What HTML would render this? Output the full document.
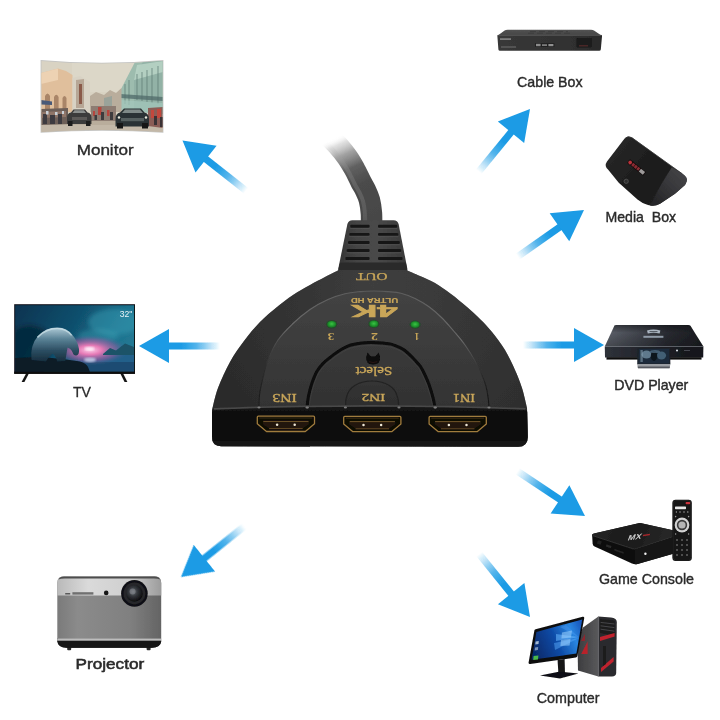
<!DOCTYPE html>
<html>
<head>
<meta charset="utf-8">
<title>HDMI Switch Diagram</title>
<style>
  html, body { margin: 0; padding: 0; background: #ffffff; }
  body { width: 720px; height: 720px; overflow: hidden; position: relative; font-family: "Liberation Sans", sans-serif; }
  svg { position: absolute; left: 0; top: 0; display: block; }
  .lbl { font-family: "Liberation Sans", sans-serif; font-size: 15px; fill: #2a2a2a; text-anchor: start; }
  .gold { fill: #c9a659; font-family: "Liberation Serif", serif; text-anchor: middle; }
  .goldb { fill: #c9a659; font-family: "Liberation Sans", sans-serif; font-weight: bold; text-anchor: middle; }
</style>
</head>
<body>
<svg width="720" height="720" viewBox="0 0 720 720">
  <defs>
    <!-- arrow: tip at origin, pointing +x -->
    <linearGradient id="shaft" x1="-81" y1="0" x2="-29" y2="0" gradientUnits="userSpaceOnUse">
      <stop offset="0" stop-color="#1a9be5" stop-opacity="0"/>
      <stop offset="0.45" stop-color="#1a9be5" stop-opacity="0.75"/>
      <stop offset="0.75" stop-color="#1a9be5" stop-opacity="1"/>
      <stop offset="1" stop-color="#1a9be5" stop-opacity="1"/>
    </linearGradient>
    <g id="arrow">
      <rect x="-81" y="-3.5" width="53" height="7" fill="url(#shaft)"/>
      <path d="M0 0 L-30 -17 L-30 17 Z" fill="#1a9be5"/>
    </g>
    <filter id="softT" x="-5%" y="-20%" width="110%" height="140%"><feGaussianBlur stdDeviation="0.35"/></filter>
    <filter id="soft" x="-5%" y="-5%" width="110%" height="110%"><feGaussianBlur stdDeviation="0.5"/></filter>
    <filter id="soft1" x="-5%" y="-5%" width="110%" height="110%"><feGaussianBlur stdDeviation="1"/></filter>
    <filter id="soft2" x="-10%" y="-10%" width="120%" height="120%"><feGaussianBlur stdDeviation="2"/></filter>
  </defs>

  <rect width="720" height="720" fill="#ffffff"/>

  <!-- ARROWS -->
  <g id="arrows" filter="url(#soft)">
    <use href="#arrow" transform="translate(182.5 140.6) rotate(-141.7)"/>
    <use href="#arrow" transform="translate(139 346) rotate(180)"/>
    <use href="#arrow" transform="translate(181 577) rotate(141.3)"/>
    <use href="#arrow" transform="translate(530 109) rotate(-50.7)"/>
    <use href="#arrow" transform="translate(584 210) rotate(-35.1)"/>
    <use href="#arrow" transform="translate(604 345) rotate(0)"/>
    <use href="#arrow" transform="translate(585 516) rotate(33.5)"/>
    <use href="#arrow" transform="translate(530 617) rotate(51.1)"/>
  </g>

  <!-- LABELS -->
  <g id="labels" filter="url(#softT)">
    <text class="lbl" x="76.7" y="154.8" font-size="14.3" textLength="56.9" lengthAdjust="spacingAndGlyphs" stroke="#2a2a2a" stroke-width="0.35">Monitor</text>
    <text class="lbl" x="73.0" y="396.5" font-size="14.5" textLength="18.0" lengthAdjust="spacingAndGlyphs" stroke="#2a2a2a" stroke-width="0.30">TV</text>
    <text class="lbl" x="75.6" y="668.8" font-size="14.2" textLength="68.6" lengthAdjust="spacingAndGlyphs" stroke="#2a2a2a" stroke-width="0.55">Projector</text>
    <text class="lbl" x="517.1" y="86.8" font-size="13.8" textLength="65.5" lengthAdjust="spacingAndGlyphs" stroke="#2a2a2a" stroke-width="0.40">Cable Box</text>
    <text class="lbl" x="605.5" y="221.6" font-size="13.2" textLength="70.6" lengthAdjust="spacingAndGlyphs" stroke="#2a2a2a" stroke-width="0.40">Media&#160;&#160;Box</text>
    <text class="lbl" x="614.3" y="389.8" font-size="13.0" textLength="74.0" lengthAdjust="spacingAndGlyphs" stroke="#2a2a2a" stroke-width="0.45">DVD Player</text>
    <text class="lbl" x="598.9" y="583.8" font-size="14.0" textLength="95.1" lengthAdjust="spacingAndGlyphs" stroke="#2a2a2a" stroke-width="0.40">Game Console</text>
    <text class="lbl" x="536.8" y="702.8" font-size="14.0" textLength="62.7" lengthAdjust="spacingAndGlyphs" stroke="#2a2a2a" stroke-width="0.40">Computer</text>
  </g>

  <!-- CENTER DEVICE placeholder -->
  <g id="device">
    <defs>
      <filter id="cableBlur" filterUnits="userSpaceOnUse" x="290" y="110" width="130" height="140"><feGaussianBlur stdDeviation="0.6"/></filter>
      <linearGradient id="cableFade" x1="372" y1="226" x2="332" y2="139" gradientUnits="userSpaceOnUse">
        <stop offset="0" stop-color="#464646"/>
        <stop offset="0.45" stop-color="#4b4b4b"/>
        <stop offset="0.64" stop-color="#585858" stop-opacity="0.95"/>
        <stop offset="0.8" stop-color="#7a7a7a" stop-opacity="0.7"/>
        <stop offset="0.92" stop-color="#a8a8a8" stop-opacity="0.35"/>
        <stop offset="1" stop-color="#ffffff" stop-opacity="0"/>
      </linearGradient>
      <linearGradient id="cableHi" x1="372" y1="226" x2="332" y2="139" gradientUnits="userSpaceOnUse">
        <stop offset="0" stop-color="#5c5c5c" stop-opacity="0.75"/>
        <stop offset="0.6" stop-color="#747474" stop-opacity="0.6"/>
        <stop offset="0.9" stop-color="#bbbbbb" stop-opacity="0.2"/>
        <stop offset="1" stop-color="#ffffff" stop-opacity="0"/>
      </linearGradient>
      <linearGradient id="reliefG" x1="339" y1="0" x2="406" y2="0" gradientUnits="userSpaceOnUse">
        <stop offset="0" stop-color="#353535"/>
        <stop offset="0.25" stop-color="#444444"/>
        <stop offset="0.55" stop-color="#494949"/>
        <stop offset="1" stop-color="#3a3a3a"/>
      </linearGradient>
      <radialGradient id="topG" cx="372" cy="285" r="190" gradientUnits="userSpaceOnUse">
        <stop offset="0" stop-color="#464646"/>
        <stop offset="0.4" stop-color="#383838"/>
        <stop offset="0.8" stop-color="#2c2c2c"/>
        <stop offset="1" stop-color="#262626"/>
      </radialGradient>
      <linearGradient id="bandG" x1="212" y1="0" x2="527" y2="0" gradientUnits="userSpaceOnUse">
        <stop offset="0" stop-color="#2e2e2e"/>
        <stop offset="0.35" stop-color="#303030"/>
        <stop offset="0.7" stop-color="#3a3a3a"/>
        <stop offset="1" stop-color="#383838"/>
      </linearGradient>
      <linearGradient id="a2S" x1="259" y1="0" x2="489" y2="0" gradientUnits="userSpaceOnUse">
        <stop offset="0" stop-color="#1c1c1c"/>
        <stop offset="0.12" stop-color="#6a6a6a"/>
        <stop offset="0.5" stop-color="#585858"/>
        <stop offset="0.88" stop-color="#6a6a6a"/>
        <stop offset="1" stop-color="#161616"/>
      </linearGradient>
      <linearGradient id="frontG" x1="0" y1="406" x2="0" y2="449" gradientUnits="userSpaceOnUse">
        <stop offset="0" stop-color="#1a1a1a"/>
        <stop offset="0.15" stop-color="#0e0e0e"/>
        <stop offset="0.8" stop-color="#111111"/>
        <stop offset="1" stop-color="#1c1c1c"/>
      </linearGradient>
      <linearGradient id="a2G" x1="0" y1="291" x2="0" y2="407" gradientUnits="userSpaceOnUse">
        <stop offset="0" stop-color="#434343"/>
        <stop offset="0.45" stop-color="#3c3c3c"/>
        <stop offset="1" stop-color="#333333"/>
      </linearGradient>
      <linearGradient id="a3G" x1="0" y1="345" x2="0" y2="407" gradientUnits="userSpaceOnUse">
        <stop offset="0" stop-color="#3a3a3a"/>
        <stop offset="1" stop-color="#313131"/>
      </linearGradient>
      <linearGradient id="a4G" x1="0" y1="380" x2="0" y2="407" gradientUnits="userSpaceOnUse">
        <stop offset="0" stop-color="#353535"/>
        <stop offset="1" stop-color="#2d2d2d"/>
      </linearGradient>
      <radialGradient id="ledG" cx="0.5" cy="0.45" r="0.5">
        <stop offset="0" stop-color="#3cc246"/>
        <stop offset="0.55" stop-color="#24a030"/>
        <stop offset="1" stop-color="#187a26"/>
      </radialGradient>
      <!-- HDMI port centred at 0,0 ; 59 x 16 -->
      <g id="hdmi">
        <path d="M-27.6 -7.6 Q-28.6 -7.6 -28.6 -6.6 L-28.6 0 L-19.4 7.7 L19.4 7.7 L28.6 0 L28.6 -6.6 Q28.6 -7.6 27.6 -7.6 Z" fill="#0b0806" stroke="#a07c3c" stroke-width="1.3" stroke-linejoin="round"/>
        <path d="M-26.5 -5.8 L26.5 -5.8" stroke="#2e2210" stroke-width="1.4"/>
        <path d="M-23 -2.6 L23 -2.6 L23 0.4 L16.6 4.6 L-16.6 4.6 L-23 0.4 Z" fill="#22170a"/>
        <path d="M-22.6 -2.4 L22.6 -2.4" stroke="#7c6030" stroke-width="0.9"/>
        <path d="M-16.8 4.8 L16.8 4.8" stroke="#6e5228" stroke-width="0.9"/>
        <circle cx="-8.8" cy="1" r="1.25" fill="#f0e8d8"/>
        <circle cx="8.8" cy="1" r="1.25" fill="#f0e8d8"/>
      </g>
    </defs>

    <!-- cable -->
    <g filter="url(#cableBlur)">
      <path d="M371.5 228.0 C371.5 225.5 371.8 217.7 371.4 213.0 C371.0 208.3 370.4 203.8 369.4 200.0 C368.4 196.2 366.8 193.0 365.4 190.0 C364.0 187.0 362.8 185.5 361.0 182.0 C359.2 178.5 356.8 173.1 354.5 169.0 C352.2 164.9 350.3 161.5 347.5 157.5 C344.7 153.5 341.1 149.0 337.5 145.0 C333.9 141.0 327.9 135.4 326.0 133.5" fill="none" stroke="url(#cableFade)" stroke-width="21.5"/>
      <path d="M365.0 228.0 C365.0 225.6 365.2 217.9 364.9 213.5 C364.6 209.1 364.0 205.1 363.1 201.6 C362.2 198.2 360.8 195.5 359.5 192.7 C358.2 190.0 357.0 188.4 355.2 185.0 C353.4 181.6 351.0 176.1 348.8 172.1 C346.6 168.2 344.9 165.1 342.2 161.3 C339.5 157.5 336.1 153.2 332.7 149.3 C329.2 145.5 323.3 140.0 321.4 138.1" fill="none" stroke="url(#cableHi)" stroke-width="4"/>
    </g>

    <!-- strain relief -->
    <g filter="url(#soft)">
      <path d="M352.5 220.2 L393.5 220.2 Q397.6 220.2 398.6 224 L407.2 268 L407.2 272 L338.4 272 L338.4 268 L347.4 224 Q348.4 220.2 352.5 220.2 Z" fill="url(#reliefG)"/>
      <path d="M340.2 262.5 L405.8 262.5 L407.2 269 L407.2 272 L338.4 272 L338.4 269 Z" fill="#2a2a2a"/>
      <g fill="#191919">
        <rect x="350.2" y="224.8" width="19.4" height="2.9" rx="1"/><rect x="378" y="224.8" width="19.2" height="2.9" rx="1"/>
        <rect x="349.2" y="232.9" width="20.4" height="2.9" rx="1"/><rect x="378" y="232.9" width="20.4" height="2.9" rx="1"/>
        <rect x="348" y="241" width="21.6" height="2.9" rx="1"/><rect x="378" y="241" width="21.8" height="2.9" rx="1"/>
        <rect x="346.6" y="249.1" width="23" height="2.9" rx="1"/><rect x="378" y="249.1" width="23.2" height="2.9" rx="1"/>
        <rect x="345.4" y="257" width="24.2" height="2.9" rx="1"/><rect x="378" y="257" width="24.6" height="2.9" rx="1"/>
      </g>
      <g fill="#5a5a5a" opacity="0.55">
        <rect x="350.2" y="228" width="19.4" height="1"/><rect x="378" y="228" width="19.2" height="1"/>
        <rect x="349.2" y="236.1" width="20.4" height="1"/><rect x="378" y="236.1" width="20.4" height="1"/>
        <rect x="348" y="244.2" width="21.6" height="1"/><rect x="378" y="244.2" width="21.8" height="1"/>
        <rect x="346.6" y="252.3" width="23" height="1"/><rect x="378" y="252.3" width="23.2" height="1"/>
      </g>
    </g>

    <!-- body: top surface + front -->
    <g filter="url(#soft)">
      <path d="M212.0 410.0 C213.0 406.3 215.0 396.0 218.0 388.0 C221.0 380.0 225.7 369.8 230.0 362.0 C234.3 354.2 239.0 347.7 244.0 341.0 C249.0 334.3 254.5 327.7 260.0 322.0 C265.5 316.3 271.5 311.5 277.0 307.0 C282.5 302.5 287.5 298.7 293.0 295.0 C298.5 291.3 304.7 288.0 310.0 285.0 C315.3 282.0 320.2 279.5 325.0 277.0 C329.8 274.5 336.7 271.2 339.0 270.0 L406.0 270.0 C408.3 271.0 415.2 273.8 420.0 276.0 C424.8 278.2 429.8 280.0 435.0 283.0 C440.2 286.0 445.7 290.0 451.0 294.0 C456.3 298.0 462.0 302.7 467.0 307.0 C472.0 311.3 476.8 315.8 481.0 320.0 C485.2 324.2 488.0 327.0 492.0 332.0 C496.0 337.0 501.2 343.7 505.0 350.0 C508.8 356.3 512.2 363.7 515.0 370.0 C517.8 376.3 520.0 381.7 522.0 388.0 C524.0 394.3 526.2 404.7 527.0 408.0 L527.8 437 Q527.8 446.8 518 446.8 L221 446.2 Q212 446.2 212 437 Z" fill="url(#bandG)"/>
      <path d="M212.0 410.0 C213.0 406.3 215.0 396.0 218.0 388.0 C221.0 380.0 225.7 369.8 230.0 362.0 C234.3 354.2 239.0 347.7 244.0 341.0 C249.0 334.3 254.5 327.7 260.0 322.0 C265.5 316.3 271.5 311.5 277.0 307.0 C282.5 302.5 287.5 298.7 293.0 295.0 C298.5 291.3 304.7 288.0 310.0 285.0 C315.3 282.0 320.2 279.5 325.0 277.0 C329.8 274.5 336.7 271.2 339.0 270.0 L406.0 270.0 C408.3 271.0 415.2 273.8 420.0 276.0 C424.8 278.2 429.8 280.0 435.0 283.0 C440.2 286.0 445.7 290.0 451.0 294.0 C456.3 298.0 462.0 302.7 467.0 307.0 C472.0 311.3 476.8 315.8 481.0 320.0 C485.2 324.2 488.0 327.0 492.0 332.0 C496.0 337.0 501.2 343.7 505.0 350.0 C508.8 356.3 512.2 363.7 515.0 370.0 C517.8 376.3 520.0 381.7 522.0 388.0 C524.0 394.3 526.2 404.7 527.0 408.0 L527.8 437 Q527.8 446.8 518 446.8 L221 446.2 Q212 446.2 212 437 Z" fill="url(#topG)" opacity="0.55"/>
      <!-- arch 2 interior (slightly lighter), highlight line -->
      <path d="M259.0 407.0 C259.1 405.0 258.9 399.5 259.5 395.0 C260.1 390.5 261.1 385.8 262.5 380.0 C263.9 374.2 265.4 366.7 268.0 360.0 C270.6 353.3 273.9 346.0 278.0 340.0 C282.1 334.0 287.2 329.1 292.5 324.0 C297.8 318.9 304.1 313.6 310.0 309.5 C315.9 305.4 322.2 302.1 328.0 299.5 C333.8 296.9 339.7 295.1 345.0 293.8 C350.3 292.5 355.2 292.1 360.0 291.6 C364.8 291.1 369.3 291.0 374.0 291.0 C378.7 291.0 383.5 291.2 388.0 291.6 C392.5 292.0 396.5 292.1 401.0 293.2 C405.5 294.3 410.3 296.2 415.0 298.5 C419.7 300.8 424.5 303.4 429.0 306.7 C433.5 309.9 437.8 313.8 442.0 318.0 C446.2 322.2 450.7 327.5 454.5 332.0 C458.3 336.5 461.8 340.5 465.0 345.0 C468.2 349.5 471.3 354.3 474.0 359.0 C476.7 363.7 479.1 368.7 481.0 373.0 C482.9 377.3 484.4 381.0 485.6 385.0 C486.8 389.0 487.4 393.3 488.0 397.0 C488.6 400.7 488.8 405.3 489.0 407.0 Z" fill="url(#a2G)"/>
      <path d="M259.0 407.0 C259.1 405.0 258.9 399.5 259.5 395.0 C260.1 390.5 261.1 385.8 262.5 380.0 C263.9 374.2 265.4 366.7 268.0 360.0 C270.6 353.3 273.9 346.0 278.0 340.0 C282.1 334.0 287.2 329.1 292.5 324.0 C297.8 318.9 304.1 313.6 310.0 309.5 C315.9 305.4 322.2 302.1 328.0 299.5 C333.8 296.9 339.7 295.1 345.0 293.8 C350.3 292.5 355.2 292.1 360.0 291.6 C364.8 291.1 369.3 291.0 374.0 291.0 C378.7 291.0 383.5 291.2 388.0 291.6 C392.5 292.0 396.5 292.1 401.0 293.2 C405.5 294.3 410.3 296.2 415.0 298.5 C419.7 300.8 424.5 303.4 429.0 306.7 C433.5 309.9 437.8 313.8 442.0 318.0 C446.2 322.2 450.7 327.5 454.5 332.0 C458.3 336.5 461.8 340.5 465.0 345.0 C468.2 349.5 471.3 354.3 474.0 359.0 C476.7 363.7 479.1 368.7 481.0 373.0 C482.9 377.3 484.4 381.0 485.6 385.0 C486.8 389.0 487.4 393.3 488.0 397.0 C488.6 400.7 488.8 405.3 489.0 407.0" fill="none" stroke="url(#a2S)" stroke-width="1.1"/>
      <!-- arch 3 groove -->
      <path d="M307.0 407.5 C307.2 405.6 307.7 400.1 308.5 396.0 C309.3 391.9 310.6 387.1 312.0 383.0 C313.4 378.9 314.9 374.9 316.7 371.7 C318.5 368.4 320.8 365.9 323.0 363.5 C325.2 361.1 327.8 359.2 330.0 357.5 C332.2 355.8 333.9 354.4 336.0 353.0 C338.1 351.6 340.2 350.1 342.5 348.8 C344.8 347.5 347.1 346.2 350.0 345.3 C352.9 344.4 356.5 343.7 360.0 343.2 C363.5 342.7 367.3 342.4 371.0 342.4 C374.7 342.4 378.4 342.6 382.0 343.0 C385.6 343.4 389.5 343.8 392.5 344.6 C395.5 345.4 397.8 346.5 400.0 347.6 C402.2 348.7 403.5 349.4 405.5 351.0 C407.5 352.6 410.0 355.0 412.0 357.0 C414.0 359.0 416.1 361.4 417.5 363.0 C418.9 364.6 419.3 364.7 420.5 366.5 C421.7 368.3 423.1 371.0 424.5 374.0 C425.9 377.0 427.8 381.2 429.0 384.5 C430.2 387.8 431.2 391.2 432.0 394.0 C432.8 396.8 433.3 398.8 433.8 401.0 C434.3 403.2 434.8 406.4 435.0 407.5 Z" fill="url(#a3G)"/>
      <path d="M307.0 407.5 C307.2 405.6 307.7 400.1 308.5 396.0 C309.3 391.9 310.6 387.1 312.0 383.0 C313.4 378.9 314.9 374.9 316.7 371.7 C318.5 368.4 320.8 365.9 323.0 363.5 C325.2 361.1 327.8 359.2 330.0 357.5 C332.2 355.8 333.9 354.4 336.0 353.0 C338.1 351.6 340.2 350.1 342.5 348.8 C344.8 347.5 347.1 346.2 350.0 345.3 C352.9 344.4 356.5 343.7 360.0 343.2 C363.5 342.7 367.3 342.4 371.0 342.4 C374.7 342.4 378.4 342.6 382.0 343.0 C385.6 343.4 389.5 343.8 392.5 344.6 C395.5 345.4 397.8 346.5 400.0 347.6 C402.2 348.7 403.5 349.4 405.5 351.0 C407.5 352.6 410.0 355.0 412.0 357.0 C414.0 359.0 416.1 361.4 417.5 363.0 C418.9 364.6 419.3 364.7 420.5 366.5 C421.7 368.3 423.1 371.0 424.5 374.0 C425.9 377.0 427.8 381.2 429.0 384.5 C430.2 387.8 431.2 391.2 432.0 394.0 C432.8 396.8 433.3 398.8 433.8 401.0 C434.3 403.2 434.8 406.4 435.0 407.5" fill="none" stroke="#0a0a0a" stroke-width="3" stroke-linecap="butt"/>
      <path d="M307.0 407.5 C307.2 405.6 307.7 400.1 308.5 396.0 C309.3 391.9 310.6 387.1 312.0 383.0 C313.4 378.9 314.9 374.9 316.7 371.7 C318.5 368.4 320.8 365.9 323.0 363.5 C325.2 361.1 327.8 359.2 330.0 357.5 C332.2 355.8 333.9 354.4 336.0 353.0 C338.1 351.6 340.2 350.1 342.5 348.8 C344.8 347.5 347.1 346.2 350.0 345.3 C352.9 344.4 356.5 343.7 360.0 343.2 C363.5 342.7 367.3 342.4 371.0 342.4 C374.7 342.4 378.4 342.6 382.0 343.0 C385.6 343.4 389.5 343.8 392.5 344.6 C395.5 345.4 397.8 346.5 400.0 347.6 C402.2 348.7 403.5 349.4 405.5 351.0 C407.5 352.6 410.0 355.0 412.0 357.0 C414.0 359.0 416.1 361.4 417.5 363.0 C418.9 364.6 419.3 364.7 420.5 366.5 C421.7 368.3 423.1 371.0 424.5 374.0 C425.9 377.0 427.8 381.2 429.0 384.5 C430.2 387.8 431.2 391.2 432.0 394.0 C432.8 396.8 433.3 398.8 433.8 401.0 C434.3 403.2 434.8 406.4 435.0 407.5" fill="none" stroke="#4a4a4a" stroke-width="0.8" transform="translate(372 407.5) scale(0.965 0.955) translate(-372 -407.5)" opacity="0.55"/>
      <!-- arch 4 -->
      <path d="M345.5 407.5 C345.6 406.1 345.4 401.8 346.0 399.0 C346.6 396.2 347.5 393.3 349.0 391.0 C350.5 388.7 352.7 386.8 355.0 385.3 C357.3 383.8 360.2 382.7 363.0 382.0 C365.8 381.3 369.0 381.0 372.0 381.0 C375.0 381.0 378.2 381.3 381.0 382.0 C383.8 382.7 386.7 383.8 389.0 385.3 C391.3 386.8 393.5 388.7 395.0 391.0 C396.5 393.3 397.4 396.2 398.0 399.0 C398.6 401.8 398.7 406.1 398.8 407.5 Z" fill="url(#a4G)"/>
      <path d="M345.5 407.5 C345.6 406.1 345.4 401.8 346.0 399.0 C346.6 396.2 347.5 393.3 349.0 391.0 C350.5 388.7 352.7 386.8 355.0 385.3 C357.3 383.8 360.2 382.7 363.0 382.0 C365.8 381.3 369.0 381.0 372.0 381.0 C375.0 381.0 378.2 381.3 381.0 382.0 C383.8 382.7 386.7 383.8 389.0 385.3 C391.3 386.8 393.5 388.7 395.0 391.0 C396.5 393.3 397.4 396.2 398.0 399.0 C398.6 401.8 398.7 406.1 398.8 407.5" fill="none" stroke="#1e1e1e" stroke-width="1.2" opacity="0.75"/>
      <!-- front face -->
      <path d="M212 412 Q212.3 408.6 217 408.2 Q290 405.2 372 405.2 Q450 405.2 522 408.2 Q527 408.6 527.3 412 L527.8 437 Q527.8 446.8 518 446.8 L221 446.2 Q212 446.2 212 437 Z" fill="url(#frontG)"/>
      <path d="M214 408.8 Q290 405.8 372 405.8 Q450 405.8 525.5 408.8" stroke="#484848" stroke-width="1.8" fill="none"/>
      <!-- little highlights at arch feet -->
      <g fill="#8c8c8c" opacity="0.85">
        <ellipse cx="259" cy="407.6" rx="1.6" ry="1"/><ellipse cx="307.2" cy="407.6" rx="1.8" ry="1.1"/><ellipse cx="345.4" cy="407.6" rx="1.6" ry="1"/>
        <ellipse cx="399" cy="407.6" rx="1.6" ry="1"/><ellipse cx="435.2" cy="407.6" rx="1.8" ry="1.1"/><ellipse cx="489" cy="407.6" rx="1.6" ry="1"/>
      </g>
    </g>

    <!-- ports -->
    <g filter="url(#soft)">
      <use href="#hdmi" transform="translate(285.9 423.8)"/>
      <use href="#hdmi" transform="translate(372.3 424)"/>
      <use href="#hdmi" transform="translate(457.7 424)"/>
    </g>

    <!-- LEDs -->
    <g filter="url(#soft)">
      <ellipse cx="331.7" cy="324.2" rx="5.6" ry="4.2" fill="#14501c" opacity="0.55"/>
      <ellipse cx="373.8" cy="323.9" rx="5.6" ry="4.2" fill="#14501c" opacity="0.55"/>
      <ellipse cx="415.1" cy="324.6" rx="5.6" ry="4.2" fill="#14501c" opacity="0.55"/>
      <ellipse cx="331.7" cy="324.2" rx="4.4" ry="3.3" fill="url(#ledG)"/>
      <ellipse cx="373.8" cy="323.9" rx="4.4" ry="3.3" fill="url(#ledG)"/>
      <ellipse cx="415.1" cy="324.6" rx="4.4" ry="3.3" fill="url(#ledG)"/>
    </g>

    <!-- select button -->
    <path d="M366.3 357 L367.6 352.4 L370.8 356.6 L375.4 356.6 L378.7 352.4 L380 357 Q380.6 364.6 373.1 364.6 Q365.6 364.6 366.3 357 Z" fill="#080808" filter="url(#soft)"/>
    <path d="M369 361.6 Q373 363.6 377.2 361.6" stroke="#3a1a1a" stroke-width="0.9" fill="none" opacity="0.7"/>

    <!-- gold text (upside down) -->
    <g filter="url(#soft)">
      <text class="gold" font-size="9.4" x="371.8" y="279.2" textLength="31.6" lengthAdjust="spacingAndGlyphs" transform="rotate(180 371.8 276.1)" stroke="#c9a659" stroke-width="0.25">OUT</text>
      <text class="goldb" font-size="7.0" x="374.5" y="302.5" textLength="47.4" lengthAdjust="spacingAndGlyphs" transform="rotate(180 374.5 300.0)" stroke="#c9a659" stroke-width="0.15">ULTRA HD</text>
      <text class="goldb" font-size="15.9" x="374.3" y="316.2" textLength="46.6" lengthAdjust="spacingAndGlyphs" transform="rotate(180 374.3 310.5)" stroke="#c9a659" stroke-width="0.6">4K</text>
      <text class="gold" font-size="11.2" x="330.9" y="340.0" textLength="6.6" lengthAdjust="spacingAndGlyphs" transform="rotate(180 330.9 336.3)" font-weight="bold">3</text>
      <text class="gold" font-size="11.2" x="374.4" y="340.0" textLength="7.0" lengthAdjust="spacingAndGlyphs" transform="rotate(180 374.4 336.3)" font-weight="bold">2</text>
      <text class="gold" font-size="10.4" x="416.8" y="340.0" textLength="4.8" lengthAdjust="spacingAndGlyphs" transform="rotate(180 416.8 336.6)" font-weight="bold">1</text>
      <text class="gold" font-size="12" x="373.9" y="374.9" textLength="36.8" lengthAdjust="spacingAndGlyphs" transform="rotate(180 373.9 370.9)" stroke="#c9a659" stroke-width="0.3">Select</text>
      <text class="gold" font-size="11.5" x="284.6" y="401.7" textLength="24.2" lengthAdjust="spacingAndGlyphs" transform="rotate(180 284.6 397.9)" stroke="#c9a659" stroke-width="0.35">IN3</text>
      <text class="gold" font-size="11.2" x="373.4" y="401.6" textLength="23.9" lengthAdjust="spacingAndGlyphs" transform="rotate(180 373.4 398.0)" stroke="#c9a659" stroke-width="0.35">IN2</text>
      <text class="gold" font-size="11.5" x="464.0" y="401.8" textLength="22.0" lengthAdjust="spacingAndGlyphs" transform="rotate(180 464.0 397.9)" stroke="#c9a659" stroke-width="0.35">IN1</text>
    </g>
  </g>
  </g>
  <g id="thumbs">
    <defs>
      <clipPath id="monClip"><path d="M41.5 61 Q102 66.5 162.5 61 L162.5 131.8 Q102 127.6 41.5 131.8 Z"/></clipPath>
      <clipPath id="tvClip"><rect x="15.2" y="305.2" width="118.8" height="66.6"/></clipPath>
      <linearGradient id="tvSky" x1="15" y1="305" x2="134" y2="372" gradientUnits="userSpaceOnUse">
        <stop offset="0" stop-color="#0b3350"/>
        <stop offset="0.45" stop-color="#10506e"/>
        <stop offset="0.75" stop-color="#1c728e"/>
        <stop offset="1" stop-color="#287e98"/>
      </linearGradient>
      <radialGradient id="tvGlow" cx="90" cy="350" r="26" gradientUnits="userSpaceOnUse" gradientTransform="translate(90 350) scale(1.5 0.6) translate(-90 -350)">
        <stop offset="0" stop-color="#ffd0ea"/>
        <stop offset="0.3" stop-color="#f07ab8" stop-opacity="0.95"/>
        <stop offset="0.7" stop-color="#a05aa0" stop-opacity="0.5"/>
        <stop offset="1" stop-color="#2c6a90" stop-opacity="0"/>
      </radialGradient>
      <linearGradient id="bearG" x1="0" y1="329" x2="0" y2="362" gradientUnits="userSpaceOnUse">
        <stop offset="0" stop-color="#a4c2cf"/>
        <stop offset="0.3" stop-color="#5a8296"/>
        <stop offset="0.65" stop-color="#2c4e62"/>
        <stop offset="1" stop-color="#152c3c"/>
      </linearGradient>
      <linearGradient id="prjTop" x1="57" y1="0" x2="161" y2="0" gradientUnits="userSpaceOnUse">
        <stop offset="0" stop-color="#b9b9b9"/>
        <stop offset="0.3" stop-color="#dadada"/>
        <stop offset="0.7" stop-color="#cfcfcf"/>
        <stop offset="1" stop-color="#9c9c9c"/>
      </linearGradient>
      <linearGradient id="prjBody" x1="57" y1="0" x2="161" y2="0" gradientUnits="userSpaceOnUse">
        <stop offset="0" stop-color="#7a7a7a"/>
        <stop offset="0.2" stop-color="#8b8b8b"/>
        <stop offset="0.7" stop-color="#808080"/>
        <stop offset="1" stop-color="#646464"/>
      </linearGradient>
      <radialGradient id="lensG" cx="0.42" cy="0.4" r="0.6">
        <stop offset="0" stop-color="#6c7076"/>
        <stop offset="0.45" stop-color="#33363b"/>
        <stop offset="1" stop-color="#0c0c0e"/>
      </radialGradient>
    </defs>

    <!-- ============ MONITOR ============ -->
    <g id="monitor" filter="url(#soft)">
      <path d="M40.6 60 Q102 65.6 163.4 60 L163.4 132.8 Q102 128.6 40.6 132.8 Z" fill="#c4c4c2"/>
      <g clip-path="url(#monClip)">
        <rect x="40" y="58" width="125" height="76" fill="#d9d3c3"/>
        <!-- sky gradient hint -->
        <rect x="72" y="62" width="62" height="30" fill="#dcd7c8"/>
        <!-- right building (teal) -->
        <path d="M163 60 L135 62 L120.5 90 L120.5 110 L163 114 Z" fill="#9dbcae"/>
        <path d="M163 60 L143 61.5 L134 78 L134 111 L163 114 Z" fill="#92b2a6"/>
        <path d="M137 65 L163 61 L163 72 L134 80 Z" fill="#bcd6c8" opacity="0.8"/>
        <g stroke="#5d7a72" stroke-width="1.2" opacity="0.6">
          <path d="M137 74 L137 100"/><path d="M142 72 L142 101"/><path d="M147 70 L147 102"/><path d="M152 68 L152 103"/><path d="M158 66 L158 104"/>
          <path d="M125 84 L125 104"/><path d="M129 80 L129 105"/>
        </g>
        <path d="M120.5 94 L163 97 L163 101 L120.5 98 Z" fill="#4f6a68" opacity="0.75"/><path d="M120.5 100 L163 103 L163 114 L120.5 110 Z" fill="#a4c8bc" opacity="0.7"/>
        <!-- distant center buildings -->
        <path d="M90 96 L96 92 L104 95 L110 90 L116 93 L121.5 88 L121.5 112 L90 112 Z" fill="#b9ad9c"/>
        <path d="M104 98 L112 96 L112 110 L104 110 Z" fill="#9aa39a"/>
        <!-- left buildings -->
        <path d="M41 73 L58 68.5 L66 71 L72.5 75 L72.5 112 L41 112 Z" fill="#e0bf9c"/>
        <path d="M41 73 L58 68.5 L58 80 L41 84 Z" fill="#edd2b3"/>
        <path d="M72.5 78 L80 76 L90 82 L90 112 L72.5 112 Z" fill="#d8d2c4"/>
        <path d="M76 80 L84 79 L84 108 L76 108 Z" fill="#b7a796"/>
        <path d="M79 84 L82 84 L82 104 L79 104 Z" fill="#8a5a4a"/>
        <!-- arches on left building -->
        <g fill="#a98568">
          <path d="M45 112 L45 96 Q47.5 91 50 96 L50 112 Z"/>
          <path d="M54 112 L54 97 Q56.3 92.5 58.6 97 L58.6 112 Z"/>
          <path d="M62.5 112 L62.5 98 Q64.5 94 66.5 98 L66.5 112 Z"/>
        </g>
        <path d="M41 100 L52 101.5 L52 105 L41 104.5 Z" fill="#4a5a78"/>
        <!-- street -->
        <rect x="40" y="118" width="125" height="16" fill="#b9ad9c"/>
        <rect x="40" y="125" width="125" height="9" fill="#c3b8a8"/>
        <!-- crowds -->
        <path d="M41 109 L68 108 L68 124 L41 125 Z" fill="#6d5f58"/>
        <path d="M41 112 L66 111 L66 117 L41 118 Z" fill="#8f7468"/>
        <g fill="#3c3a40"><rect x="43" y="114" width="4" height="10"/><rect x="50" y="115" width="5" height="9"/><rect x="58" y="114" width="4" height="10"/></g>
        <g fill="#c9d0d6"><rect x="46" y="111" width="2.5" height="3.5"/><rect x="55" y="112" width="2.5" height="3"/><rect x="62" y="111" width="2" height="3"/></g>
        <path d="M91 106 L116 106 L116 121 L91 121 Z" fill="#8d7c72"/>
        <g fill="#b6443c"><rect x="98" y="107" width="3.5" height="8"/><rect x="107" y="110" width="2.5" height="6"/><rect x="93" y="111" width="2" height="5"/></g>
        <g fill="#3d3a3c"><rect x="101" y="112" width="3" height="8"/><rect x="110" y="112" width="3" height="8"/><rect x="94.5" y="115" width="2.5" height="5"/></g>
        <path d="M148 108 L163 107 L163 128 L148 126 Z" fill="#8b5d56"/>
        <g fill="#c2463e"><rect x="151" y="110" width="3" height="8"/><rect x="157" y="109" width="4" height="9"/></g>
        <g fill="#3a3236"><rect x="154" y="116" width="3" height="9"/><rect x="160" y="117" width="3" height="10"/></g>
        <!-- left car -->
        <path d="M67 118 Q67 113 71 112.5 L73.5 109.5 L85 109.5 L87.5 112.5 Q91.5 113 91.5 118 L91.5 124 L67 124 Z" fill="#3b3a3a"/>
        <path d="M74.5 110.3 L84 110.3 L86 113 L72.5 113 Z" fill="#8a8e8c"/>
        <rect x="68" y="121" width="4.5" height="5" fill="#1f1f1f"/><rect x="86" y="121" width="4.5" height="5" fill="#1f1f1f"/>
        <rect x="72" y="117" width="15" height="3" fill="#5c5a58"/>
        <!-- right car -->
        <path d="M115.5 119 Q115.5 113.5 120 112.5 L124 108.5 L141 108.5 L144.5 112.5 Q149 113.5 149 119 L149 126.5 L115.5 126.5 Z" fill="#2b3334"/>
        <path d="M125 109.5 L140 109.5 L143 113 L122 113 Z" fill="#7f8a88"/>
        <rect x="117" y="123" width="6" height="5.5" fill="#161616"/><rect x="142" y="123" width="6" height="5.5" fill="#161616"/>
        <rect x="121" y="118" width="23" height="3.2" fill="#566060"/>
        <circle cx="119" cy="117.5" r="1.2" fill="#e8e8dc"/><circle cx="146" cy="117.5" r="1.2" fill="#e8e8dc"/>
      </g>
    </g>

    <!-- ============ TV ============ -->
    <g id="tv" filter="url(#soft)">
      <path d="M26.6 372.5 L29.4 372.5 L24.4 382 L21.6 382 Z" fill="#141414"/>
      <path d="M119.8 372.5 L122.6 372.5 L127.4 382 L124.6 382 Z" fill="#141414"/>
      <rect x="14.2" y="304.2" width="120.8" height="69.6" fill="#101418"/>
      <g clip-path="url(#tvClip)">
        <rect x="15" y="305" width="120" height="68" fill="url(#tvSky)"/>
        <!-- lighter top-right nebula -->
        <g filter="url(#soft2)">
          <ellipse cx="114" cy="322" rx="26" ry="13" fill="#3c9fb6" opacity="0.45"/>
          <ellipse cx="98" cy="336" rx="20" ry="7" fill="#4ab0c0" opacity="0.3"/>
          <ellipse cx="30" cy="345" rx="22" ry="20" fill="#061c2c" opacity="0.6"/>
        </g>
        <!-- water -->
        <rect x="78" y="353.6" width="57" height="19" fill="#23608a"/>
        <rect x="78" y="362" width="57" height="11" fill="#1a4468" opacity="0.7"/>
        <!-- glow -->
        <rect x="50" y="326" width="85" height="46" fill="url(#tvGlow)"/>
        <ellipse cx="89.5" cy="348.8" rx="5" ry="1.8" fill="#fff0fa" opacity="0.9" filter="url(#soft1)"/>
        <ellipse cx="90" cy="359.8" rx="6" ry="2.4" fill="#cfe0f4" opacity="0.75" filter="url(#soft1)"/>
        <!-- mountains right -->
        <path d="M103 354 L110 348 L116 350.5 L125 343.5 L134 347 L134 355 L103 355 Z" fill="#1b5268"/>
        <!-- ground -->
        <path d="M15 358 Q40 356 66 359.6 L80 361.5 Q86 363 88 367 L90 372 L15 372 Z" fill="#091a26"/>
        <!-- bear -->
        <path d="M31.5 360 Q30 345 38 336 Q46 327.4 57.5 327.6 Q67 328 72.5 335 Q77.5 341 79 349 Q79.6 354.5 76.5 355.5 Q73.5 356 72.6 352.5 Q71 348.5 67.5 347.4 Q66.4 354 65.4 361 L57 361.4 Q56 356 52.6 353.6 Q48.5 356.5 46 361.4 Z" fill="url(#bearG)"/>
        <path d="M37.4 337.4 Q46.5 328.4 57.5 328.6 Q66.5 329 71.6 335.4" fill="none" stroke="#cfe4ea" stroke-width="1.5" opacity="0.7" filter="url(#soft)"/>
      </g>
      <rect x="14.2" y="371.6" width="120.8" height="2.2" fill="#0e0e10"/>
      <text x="126" y="316.6" font-family="Liberation Sans, sans-serif" font-size="8.6" fill="#e8f2f6" text-anchor="middle">32"</text>
    </g>

    <!-- ============ PROJECTOR ============ -->
    <g id="projector" filter="url(#soft)">
      <!-- feet -->
      <rect x="67.2" y="646" width="4" height="4.2" rx="1" fill="#2a2a2a"/>
      <rect x="146.6" y="646" width="4" height="4.2" rx="1" fill="#2a2a2a"/>
      <!-- base (black) -->
      <path d="M57.5 638 L161 638 L161 641 Q160.5 647.6 152 647.8 L66.5 647.8 Q58 647.6 57.5 641 Z" fill="#1c1c1c"/>
      <!-- body -->
      <path d="M57.3 583 Q57.3 576.6 64 576.6 L154.5 576.6 Q161.2 576.6 161.2 583 L161.2 641 L57.3 641 Z" fill="url(#prjBody)"/>
      <!-- silver top -->
      <path d="M57.3 583 Q57.3 576.6 64 576.6 L154.5 576.6 Q161.2 576.6 161.2 583 L161.2 595.6 L57.3 595.6 Z" fill="url(#prjTop)"/>
      <path d="M58.5 579.6 Q59.5 576.8 64 576.6 L154.5 576.6 Q159 576.8 160 579.6 Q158 578.6 154 578.6 L64.5 578.6 Q60.5 578.6 58.5 579.6 Z" fill="#4e4e4e"/>
      <!-- light strip + dark base -->
      <rect x="57.3" y="638.6" width="103.9" height="2.2" fill="#bdbdbd"/>
      <path d="M57.3 640.8 L161.2 640.8 L161.2 641.5 Q160.5 647.6 152 647.8 L66.5 647.8 Q58 647.6 57.3 641.5 Z" fill="#191919"/>
      <!-- logo -->
      <rect x="65.2" y="593" width="5" height="1.5" fill="#5a5a5a"/>
      <rect x="72.4" y="592.2" width="21" height="2.4" fill="#5e5e5e" opacity="0.85"/>
      <!-- sensor -->
      <circle cx="106.2" cy="592.9" r="2.3" fill="#141414"/>
      <!-- lens -->
      <circle cx="134.4" cy="593.4" r="13.3" fill="#111113"/>
      <circle cx="134.4" cy="593.4" r="10.8" fill="#26272a"/>
      <circle cx="134.4" cy="593.4" r="8.4" fill="url(#lensG)"/>
      <circle cx="132.6" cy="591.6" r="3" fill="#8a8e96" opacity="0.55"/>
    </g>

    <!-- ============ CABLE BOX ============ -->
    <g id="cablebox" filter="url(#soft)">
      <defs>
        <linearGradient id="cbTop" x1="0" y1="30" x2="0" y2="35.5" gradientUnits="userSpaceOnUse">
          <stop offset="0" stop-color="#525252"/><stop offset="1" stop-color="#444444"/>
        </linearGradient>
        <linearGradient id="cbFront" x1="497" y1="0" x2="602" y2="0" gradientUnits="userSpaceOnUse">
          <stop offset="0" stop-color="#383838"/><stop offset="0.6" stop-color="#323232"/><stop offset="1" stop-color="#2a2a2a"/>
        </linearGradient>
      </defs>
      <path d="M504.6 30.4 Q505.6 29.8 507.6 29.8 L591 29.8 Q593 29.8 594 30.6 L601.4 35.4 L497.8 35.4 Z" fill="url(#cbTop)"/>
      <path d="M497.8 35 L601.4 35 Q602.2 35.2 602 36.4 L600.8 49.4 Q600.6 50.8 599.2 50.8 L500 50.8 Q498.6 50.8 498.4 49.4 L497.4 36.4 Q497.2 35.2 497.8 35 Z" fill="url(#cbFront)"/>
      <path d="M498.2 35.3 L601.2 35.3" stroke="#5e5e5e" stroke-width="0.8"/>
      <path d="M530 31.6 L568 31.6 M528 33.2 L570 33.2" stroke="#3a3a3a" stroke-width="0.8" stroke-dasharray="6 3"/>
      <!-- logo & small text -->
      <rect x="500" y="38.2" width="11" height="1.8" fill="#7c7c7c"/>
      <rect x="501" y="46.4" width="15" height="1.2" fill="#666666"/>
      <!-- display -->
      <rect x="535" y="43" width="19.5" height="4" fill="#222222"/>
      <rect x="536" y="43.8" width="4.6" height="2.4" fill="#8c8c8c"/>
      <rect x="542" y="44.2" width="5" height="1.8" fill="#7c7c7c"/><rect x="548.4" y="44" width="5" height="2.2" fill="#909090"/>
      <!-- right panel -->
      <rect x="576.4" y="38" width="15.4" height="9.4" rx="0.8" fill="#1a1a1a"/>
      <rect x="579" y="45.4" width="9" height="0.9" fill="#6a3030"/>
    </g>

    <!-- ============ MEDIA BOX ============ -->
    <g id="mediabox" filter="url(#soft)">
      <defs>
        <linearGradient id="mbTop" x1="615" y1="150" x2="670" y2="195" gradientUnits="userSpaceOnUse">
          <stop offset="0" stop-color="#262626"/><stop offset="0.6" stop-color="#1b1b1b"/><stop offset="1" stop-color="#222222"/>
        </linearGradient>
        <linearGradient id="mbSide" x1="655" y1="200" x2="684" y2="174" gradientUnits="userSpaceOnUse">
          <stop offset="0" stop-color="#272729"/><stop offset="0.55" stop-color="#38383b"/><stop offset="1" stop-color="#434346"/>
        </linearGradient>
      </defs>
      <!-- whole silhouette -->
      <path d="M624.6 138.6 Q627.6 135 632 137.6 L650 150.6 L670 165 L682.5 173.8 Q688 177.6 686.6 181.6 Q686 183.6 685 185 L675 193.8 L660 203.8 Q654 207 648 205 Q642 203.4 637.5 199.5 L618.75 182.8 L608 169.6 Q604 165.6 607 161.4 Z" fill="url(#mbTop)"/>
      <!-- lighter front/right slope -->
      <path d="M671.9 167.2 L682.5 173.8 Q688 177.6 686.6 181.6 Q686 183.6 685 185 L675 193.8 L660 203.8 Q655 206.4 650 205.4 Q653 201 655 196.5 Q658 190 661 185 Q665 178 671.9 167.2 Z" fill="url(#mbSide)"/>
      <!-- edge highlight -->
      <path d="M625 138.6 Q627.6 135.4 632 137.8 L682 173.6" fill="none" stroke="#3a3a3a" stroke-width="0.8"/>
      <!-- logo -->
      <g transform="translate(636.6 167.5) rotate(38.5)">
        <rect x="-10.2" y="-2.3" width="20.4" height="4.6" fill="#140c0c"/>
        <circle cx="-8.2" cy="0" r="1.9" fill="#b8323a"/>
        <rect x="-5.6" y="-1.6" width="2.6" height="3.2" fill="#8a2c32"/>
        <rect x="-2.4" y="-1.6" width="2.6" height="3.2" fill="#8a2c32"/>
        <rect x="0.8" y="-1.6" width="2.6" height="3.2" fill="#8a3036"/>
        <rect x="4.2" y="-1.8" width="5.2" height="3.6" fill="#9c9a9a"/>
      </g>
      <circle cx="626.2" cy="181.3" r="2.1" fill="#2e2e2e" stroke="#585858" stroke-width="0.8"/>
    </g>

    <!-- ============ DVD PLAYER ============ -->
    <g id="dvd" filter="url(#soft)">
      <defs>
        <linearGradient id="dvdTop" x1="606" y1="330" x2="700" y2="340" gradientUnits="userSpaceOnUse">
          <stop offset="0" stop-color="#666b74"/><stop offset="0.3" stop-color="#4a4e57"/><stop offset="0.65" stop-color="#2b2d34"/><stop offset="1" stop-color="#1c1d22"/>
        </linearGradient>
        <linearGradient id="dvdTopV" x1="0" y1="325" x2="0" y2="347" gradientUnits="userSpaceOnUse">
          <stop offset="0" stop-color="#0e0f12" stop-opacity="0.55"/><stop offset="0.35" stop-color="#0e0f12" stop-opacity="0.1"/><stop offset="1" stop-color="#0e0f12" stop-opacity="0.35"/>
        </linearGradient>
        <linearGradient id="dvdFront" x1="605" y1="0" x2="703" y2="0" gradientUnits="userSpaceOnUse">
          <stop offset="0" stop-color="#2f323a"/><stop offset="0.5" stop-color="#1e2026"/><stop offset="1" stop-color="#14151a"/>
        </linearGradient>
      </defs>
      <path d="M614.5 325.6 Q615 325 616.5 325 L688 325 Q689.6 325 690.4 325.8 L703.4 346.6 L604.8 346.6 Z" fill="url(#dvdTop)"/>
      <path d="M614.5 325.6 Q615 325 616.5 325 L688 325 Q689.6 325 690.4 325.8 L703.4 346.6 L604.8 346.6 Z" fill="url(#dvdTopV)"/>
      <path d="M604.8 346.4 L703.4 346.4 L703.2 357.4 L605 357.4 Z" fill="url(#dvdFront)"/>
      <path d="M605 346.6 L703.2 346.6" stroke="#6f747c" stroke-width="0.7" opacity="0.8"/>
      <rect x="606.5" y="357.2" width="95" height="2.4" fill="#0c0c0e"/>
      <!-- bluray logo -->
      <path d="M647 330.4 Q653.4 328.6 660.4 330.4 L659.6 333.4 Q653.4 332 647.8 333.4 Z" fill="#b9c4d0" opacity="0.9"/>
      <path d="M649.5 331.6 L657.5 331.6" stroke="#2a2d34" stroke-width="0.7"/>
      <rect x="643.4" y="335.8" width="20" height="2" fill="#9aa6b4" opacity="0.9"/>
      <!-- tray -->
      <path d="M637.6 348.2 L670 348.2 L670.4 364.2 L637.2 364.2 Z" fill="#1b242c"/>
      <path d="M639 349 L669 349 L669.2 363.4 L638.6 363.4 Z" fill="#1c2c3a"/>
      <ellipse cx="646.5" cy="354.5" rx="5" ry="4" fill="#7693a8" opacity="0.75"/>
      <ellipse cx="661.5" cy="355.5" rx="4.6" ry="4" fill="#4f6f88" opacity="0.75"/>
      <ellipse cx="654" cy="356" rx="3.2" ry="5" fill="#0c1218" opacity="0.9"/>
      <ellipse cx="655" cy="351.5" rx="5" ry="1.6" fill="#5d7f98" opacity="0.6"/>
      <rect x="640.4" y="350" width="2.4" height="12" fill="#8ea6b8" opacity="0.55"/>
      <path d="M637.2 364 L670.4 364 L669.6 368.2 L638 368.2 Z" fill="#9a9da2"/>
      <path d="M637.6 366.6 L670 366.6 L669.6 368.2 L638 368.2 Z" fill="#55585e"/>
      <circle cx="677" cy="350.4" r="1" fill="#e8eef4"/>
      <rect x="684" y="350" width="6" height="0.9" fill="#4a4d55"/>
    </g>

    <!-- ============ GAME CONSOLE ============ -->
    <g id="console" filter="url(#soft)">
      <defs>
        <linearGradient id="gcTop" x1="600" y1="525" x2="660" y2="548" gradientUnits="userSpaceOnUse">
          <stop offset="0" stop-color="#232323"/><stop offset="0.5" stop-color="#1a1a1a"/><stop offset="1" stop-color="#262626"/>
        </linearGradient>
      </defs>
      <!-- box: silhouette -->
      <path d="M592.2 536.4 Q591.4 534.4 594 533.6 L637.5 523.4 Q640 522.8 642.5 523.4 L674 530.5 L674 553.5 L637.5 564 Q634.6 564.8 632 563.6 L594.6 546.6 Q592.8 545.8 592.6 543.5 Z" fill="#0f0f0f"/>
      <!-- top face -->
      <path d="M592.2 535.2 Q591.6 534.2 594 533.6 L637.5 523.4 Q640 522.8 642.5 523.4 L674 530.5 L674 536.2 L636.5 548.6 Q634.4 549.2 632.4 548.4 Z" fill="url(#gcTop)"/>
      <path d="M592.6 535.6 L632.4 548.6 Q634.4 549.3 636.5 548.7 L674 536.4" fill="none" stroke="#3a3a3a" stroke-width="0.8"/>
      <!-- right front face slightly lighter -->
      <path d="M635 549.6 L674 537 L674 553.5 L637.5 564 Q636 564.4 635 564 Z" fill="#161616"/>
      <!-- ports on left face -->
      <rect x="597.5" y="540.6" width="4" height="3.4" fill="#222" transform="rotate(18 599 542)"/>
      <rect x="606" y="545" width="5.4" height="2.2" fill="#2a2a2a" transform="rotate(18 608 546)"/>
      <rect x="614" y="550.4" width="10" height="1.6" fill="#252525" transform="rotate(20 619 551)"/>
      <!-- LED -->
      <circle cx="645.4" cy="553.7" r="1.2" fill="#f2f2f2"/>
      <!-- MX logo -->
      <g transform="translate(635 536.6) skewX(-28) rotate(-9)">
        <text x="0" y="3" font-family="Liberation Sans, sans-serif" font-weight="bold" font-size="7.6" fill="#d6d6d6" text-anchor="middle" textLength="12.5" lengthAdjust="spacingAndGlyphs">MX</text>
        <rect x="7.5" y="-0.6" width="6.5" height="1.5" fill="#a8282c"/>
      </g>
      <!-- remote -->
      <rect x="672.4" y="499.8" width="19.4" height="61.2" rx="3.2" fill="#121212"/>
      <rect x="673.2" y="500.6" width="17.8" height="59.6" rx="2.6" fill="none" stroke="#2c2c2c" stroke-width="0.7"/>
      <rect x="685.6" y="502" width="4.6" height="2.3" rx="0.8" fill="#c8323a"/>
      <rect x="675" y="506.4" width="11" height="2.8" rx="0.6" fill="#e6e6e6"/>
      <g fill="#9a9a9a">
        <circle cx="676.4" cy="512" r="0.8"/><circle cx="680" cy="512" r="0.8"/><circle cx="684" cy="512" r="0.8"/><circle cx="687.8" cy="512" r="0.8"/>
        <circle cx="675.6" cy="516.6" r="0.8"/><circle cx="688.6" cy="516.6" r="0.8"/>
        <circle cx="675.6" cy="534" r="0.8"/><circle cx="688.6" cy="534" r="0.8"/>
        <circle cx="677" cy="540" r="0.8"/><circle cx="682" cy="540" r="0.8"/><circle cx="687" cy="540" r="0.8"/>
        <circle cx="677" cy="545" r="0.8"/><circle cx="682" cy="545" r="0.8"/><circle cx="687" cy="545" r="0.8"/>
        <circle cx="677" cy="550" r="0.8"/><circle cx="682" cy="550" r="0.8"/><circle cx="687" cy="550" r="0.8"/>
        <circle cx="677" cy="555" r="0.8"/><circle cx="682" cy="555" r="0.8"/><circle cx="687" cy="555" r="0.8"/>
      </g>
      <circle cx="682" cy="525" r="7.4" fill="#d2d2d2"/>
      <circle cx="682" cy="525" r="5.2" fill="#3a3a3a"/>
      <circle cx="682" cy="525" r="3.6" fill="#b4b4b4"/>
    </g>

    <!-- ============ COMPUTER ============ -->
    <g id="computer" filter="url(#soft)">
      <defs>
        <linearGradient id="scrG" x1="533" y1="650" x2="582" y2="628" gradientUnits="userSpaceOnUse">
          <stop offset="0" stop-color="#062a6a"/><stop offset="0.45" stop-color="#0d4aa6"/><stop offset="0.8" stop-color="#2a86e0"/><stop offset="1" stop-color="#1a5cc0"/>
        </linearGradient>
        <linearGradient id="twSide" x1="577" y1="0" x2="598" y2="0" gradientUnits="userSpaceOnUse">
          <stop offset="0" stop-color="#3c3c3e"/><stop offset="1" stop-color="#58585a"/>
        </linearGradient>
      </defs>
      <!-- tower side -->
      <path d="M583 627.5 L598.4 616.6 L598.4 676.4 L578 670.5 L577.4 640 Z" fill="url(#twSide)"/>
      <path d="M581.2 654 L587.6 641.6 L587.6 654 Z" fill="#b8222c"/>
      <path d="M581 641 L585 634 L585 641 Z" fill="#a02028" opacity="0.8"/>
      <!-- tower front -->
      <path d="M598.4 616.6 L611 617.6 Q616.8 618.2 616.8 622 L616.2 673 Q616 676.4 612 676.4 L598.4 676.4 Z" fill="#2c2c2e"/>
      <path d="M600 619 L614.8 620.4 L614.8 636 L600 633 Z" fill="#1c1c1e"/>
      <path d="M600.6 622.4 L614.4 624 M600.6 625.8 L614.4 627.6 M600.6 629.2 L614.4 631.2" stroke="#4a4a4c" stroke-width="0.9" fill="none"/>
      <path d="M600 637 L614.6 633 L614.6 636.4 L600 641 Z" fill="#c0242e"/>
      <path d="M601 668 L613.6 657 L613.6 661.4 L601 672 Z" fill="#c0242e"/>
      <path d="M603 646 L606 646 L606 664 L603 666 Z" fill="#1a1a1c"/>
      <path d="M598.4 616.6 L598.4 676.4" stroke="#6a6a6c" stroke-width="0.7"/>
      <!-- monitor -->
      <path d="M534.4 630.6 Q534.4 629.6 535.6 629.2 L582.6 616.8 Q584.4 616.4 584.2 618.2 L577.4 656 Q577.2 657.4 575.8 657.6 L530.2 664 Q528.4 664.2 528.6 662.4 Z" fill="#0c0c0e"/>
      <path d="M536.4 632 L582.2 619.4 L576.4 653.6 L531.6 659.8 Z" fill="url(#scrG)"/>
      <!-- windows light beams -->
      <path d="M579 637 L556 634 L556 641 Z" fill="#6ab8ff" opacity="0.55"/>
      <path d="M579 638 L554 643 L555 650 Z" fill="#58a8f8" opacity="0.5"/>
      <path d="M579 637.5 L560 627 L566 625 Z" fill="#4a9af0" opacity="0.45"/>
      <path d="M562 632.6 L572 630.6 L571 637.4 L561.4 638.6 Z M561 640 L570.6 638.8 L569.6 645.4 L560.4 646 Z" fill="#9ed4ff" opacity="0.55"/>
      <path d="M535.6 641.6 L538.8 641 L538.5 644 L535.3 644.6 Z" fill="#d8e4f0" opacity="0.75"/><path d="M535 647.6 L538.2 647 L537.9 650 L534.7 650.6 Z" fill="#c8d8ec" opacity="0.6"/>
      <path d="M533.6 656 L538.4 655.4 L538 659.4 L533.2 660 Z" fill="#4ab84a"/>
      <!-- stand -->
      <path d="M557.6 660 L564.6 659 L565 673 L558.4 674 Z" fill="#151517"/>
      <path d="M540 675.4 L560 671.6 L578.4 673.4 L560 678.6 Z" fill="#111113"/>
    </g>
  </g>
</svg>
</body>
</html>
